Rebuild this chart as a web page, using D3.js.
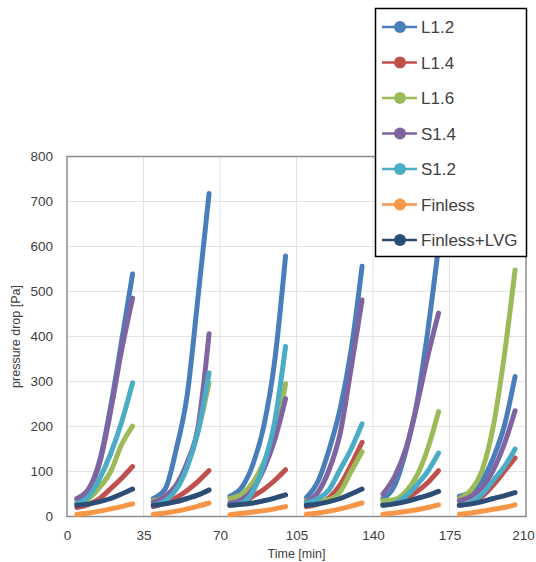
<!DOCTYPE html>
<html>
<head>
<meta charset="utf-8">
<script src="https://cdn.jsdelivr.net/npm/d3@7"></script>
<style>
  body { margin: 0; background: #fff; }
  text { font-family: "Liberation Sans", Arial, sans-serif; }
</style>
</head>
<body>
<svg id="chart" width="536" height="562"></svg>
<script>
// time inside each test (min) and start of each test window
var relTime = [4.5, 10, 15, 20, 25, 30];
var testStart = [0, 35, 70, 105, 140, 175];
var xTicks = [0, 35, 70, 105, 140, 175, 210];
var yTicks = [0, 100, 200, 300, 400, 500, 600, 700, 800];

// pressure drop [Pa], one row per test
var L12 = [
  [38, 60, 125, 245, 390, 539],
  [40, 62, 150, 270, 490, 718],
  [45, 65, 115, 200, 345, 579],
  [42, 80, 150, 240, 370, 556],
  [40, 70, 145, 250, 410, 600],
  [45, 55, 80, 130, 200, 311]
];
var L14 = [
  [20, 27, 40, 62, 85, 111],
  [22, 30, 42, 58, 78, 102],
  [25, 30, 45, 60, 80, 104],
  [22, 28, 42, 70, 115, 165],
  [28, 30, 40, 55, 75, 102],
  [25, 30, 45, 70, 100, 130]
];
var L16 = [
  [30, 40, 65, 100, 160, 201],
  [35, 45, 70, 115, 190, 297],
  [40, 50, 75, 120, 180, 295],
  [35, 35, 38, 55, 100, 144],
  [35, 38, 55, 90, 150, 233],
  [40, 60, 104, 200, 355, 548]
];
var S14 = [
  [40, 62, 120, 235, 370, 485],
  [32, 45, 70, 120, 200, 406],
  [30, 38, 60, 105, 170, 262],
  [32, 55, 105, 185, 330, 481],
  [50, 90, 150, 245, 355, 452],
  [35, 45, 65, 103, 160, 235]
];
var S12 = [
  [28, 45, 85, 140, 210, 297],
  [25, 35, 60, 110, 190, 319],
  [25, 30, 55, 115, 210, 378],
  [30, 40, 60, 105, 150, 206],
  [25, 30, 45, 70, 100, 141],
  [25, 32, 50, 80, 110, 150]
];
var Finless = [
  [5, 8, 12, 17, 22, 28],
  [5, 8, 12, 17, 23, 30],
  [4, 7, 10, 13, 17, 22],
  [5, 8, 12, 17, 23, 30],
  [5, 8, 11, 15, 20, 26],
  [5, 8, 12, 16, 20, 26]
];
var FinlessLVG = [
  [25, 28, 33, 40, 50, 61],
  [25, 28, 33, 40, 48, 59],
  [25, 27, 30, 35, 41, 48],
  [25, 28, 33, 40, 50, 61],
  [25, 28, 33, 40, 47, 56],
  [25, 28, 33, 40, 46, 53]
];

var seriesNames = ["L1.2", "L1.4", "L1.6", "S1.4", "S1.2", "Finless", "Finless+LVG"];
var seriesData = [L12, L14, L16, S14, S12, Finless, FinlessLVG];
var colors = ["#4a7ebb", "#c0504d", "#9bbb59", "#8064a2", "#4bacc6", "#f79646", "#2c4d75"];

var svg = d3.select("#chart");
var x = d3.scaleLinear().domain([0, 210]).range([67, 526]);
var y = d3.scaleLinear().domain([0, 800]).range([516.5, 156.5]);

// grid
svg.append("g").selectAll("line.hgrid")
  .data(yTicks.slice(1))
  .enter().append("line")
  .attr("x1", x(0)).attr("x2", x(210))
  .attr("y1", d => y(d)).attr("y2", d => y(d))
  .attr("stroke", "#e3e3e3").attr("stroke-width", 1);

svg.append("g").selectAll("line.vgrid")
  .data(xTicks.slice(1, -1))
  .enter().append("line")
  .attr("x1", d => x(d)).attr("x2", d => x(d))
  .attr("y1", y(0)).attr("y2", y(800))
  .attr("stroke", "#e3e3e3").attr("stroke-width", 1);

// plot border
svg.append("rect")
  .attr("x", x(0)).attr("y", y(800))
  .attr("width", x(210) - x(0)).attr("height", y(0) - y(800))
  .attr("fill", "none").attr("stroke", "#8c8c8c").attr("stroke-width", 1.5);

// axes
var xAxis = d3.axisBottom(x).tickValues(xTicks).tickSize(0).tickPadding(14);
var yAxis = d3.axisLeft(y).tickValues(yTicks).tickSize(0).tickPadding(14);

svg.append("g").attr("transform", `translate(0,${y(0)})`).call(xAxis)
  .call(g => g.select(".domain").remove())
  .selectAll("text").attr("font-size", 13.5).attr("fill", "#404040")
  .attr("font-family", "Liberation Sans, Arial, sans-serif")
  .attr("dx", d => d === 210 ? -3 : 0);  // keep last label inside the page

svg.append("g").attr("transform", `translate(${x(0)},0)`).call(yAxis)
  .call(g => g.select(".domain").remove())
  .selectAll("text").attr("font-size", 13.5).attr("fill", "#404040")
  .attr("font-family", "Liberation Sans, Arial, sans-serif");

svg.append("text")
  .attr("x", (x(0) + x(210)) / 2).attr("y", 558)
  .attr("text-anchor", "middle").attr("font-size", 12.5).attr("fill", "#404040")
  .text("Time [min]");

svg.append("text")
  .attr("transform", `translate(20,${(y(0) + y(800)) / 2}) rotate(-90)`)
  .attr("text-anchor", "middle").attr("font-size", 12.5).attr("fill", "#404040")
  .text("pressure drop [Pa]");

// series: one thick curve per test window
var line = d3.line()
  .x(d => x(d[0]))
  .y(d => y(d[1]))
  .curve(d3.curveMonotoneX);

seriesData.forEach((tests, si) => {
  var g = svg.append("g").attr("class", "series");
  tests.forEach((vals, ti) => {
    var pts = vals.map((v, i) => [testStart[ti] + relTime[i], v]);
    g.append("path")
      .attr("d", line(pts))
      .attr("fill", "none")
      .attr("stroke", colors[si])
      .attr("stroke-width", 5)
      .attr("stroke-linecap", "round")
      .attr("stroke-linejoin", "round");
  });
});

// legend
var legend = svg.append("g");
legend.append("rect")
  .attr("x", 375.5).attr("y", 8.5)
  .attr("width", 151).attr("height", 248)
  .attr("fill", "#fff").attr("stroke", "#000").attr("stroke-width", 1.5);

var item = legend.selectAll("g.item")
  .data(seriesNames)
  .enter().append("g")
  .attr("transform", (d, i) => `translate(0,${27 + i * 35.5})`);

item.append("line")
  .attr("x1", 382).attr("x2", 417).attr("y1", 0).attr("y2", 0)
  .attr("stroke", (d, i) => colors[i]).attr("stroke-width", 2.5);
item.append("circle")
  .attr("cx", 400).attr("cy", 0).attr("r", 6)
  .attr("fill", (d, i) => colors[i]);
item.append("text")
  .attr("x", 421).attr("y", 6)
  .attr("font-size", 17).attr("fill", "#404040")
  .text(d => d);
</script>
</body>
</html>
